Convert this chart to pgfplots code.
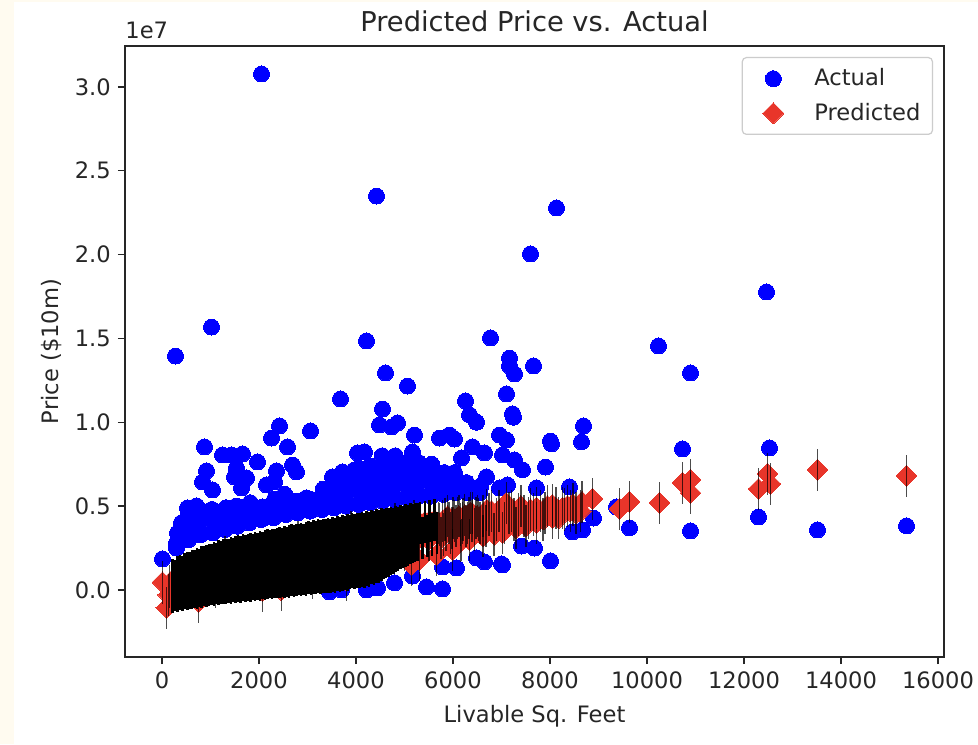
\documentclass[border=0pt]{standalone}
\usepackage{fontspec}
\setmainfont{DejaVu Sans}
\usepackage{pgfplots}
\usepackage{pgfplotstable}
\pgfplotsset{compat=1.18}
\definecolor{predred}{HTML}{E8352A}
\definecolor{cream}{HTML}{FFFBF0}
\definecolor{axdark}{HTML}{262626}

% prices are in units of 1e7
\pgfplotstableread[row sep=\\]{
x y\\
2052 3.077\\ 4423 2.349\\ 8134 2.278\\ 7598 2.004\\ 12464 1.777\\ 1021 1.568\\ 278 1.395\\ 4216 1.485\\ 6773 1.503\\ 10237 1.455\\
10897 1.294\\ 4608 1.294\\ 3680 1.139\\ 5062 1.216\\ 7165 1.383\\ 7165 1.336\\ 7660 1.336\\ 7268 1.288\\ 7103 1.169\\ 6258 1.127\\
6340 1.044\\ 6485 1.0\\ 7227 1.05\\ 7247 1.03\\ 4546 1.079\\ 2423 .978\\ 2258 .906\\ 2588 .853\\ 3062 .948\\ 876 .853\\
8691 .978\\ 8649 .883\\ 8010 .888\\ 8031 .871\\ 5206 .924\\ 4856 .996\\ 4484 .984\\ 4732 .972\\ 10732 .841\\ 12526 .847\\
7907 .733\\ 8402 .614\\ 8897 .429\\ 9639 .37\\ 10897 .352\\ 12299 .435\\ 13515 .358\\ 15351 .382\\ 9371 .495\\ 8464 .346\\
8670 .358\\ 8010 .173\\ 7412 .262\\ 7680 .25\\ 7021 .149\\ 10 .185\\ 1247 .805\\ 1433 .805\\ 1660 .811\\ 1969 .763\\
918 .71\\ 835 .644\\ 1041 .596\\ 1536 .727\\ 1495 .674\\ 1742 .668\\ 1639 .608\\ 2361 .71\\ 2155 .626\\ 2320 .644\\
2691 .745\\ 2773 .704\\ 402 .4\\ 526 .489\\ 711 .501\\ 299 .25\\ 876 .435\\ 1227 .447\\ 1701 .495\\ 2072 .495\\
2485 .555\\ 2979 .549\\ 3412 .549\\ 3515 .674\\ 3722 .704\\ 3969 .716\\ 4031 .817\\ 4175 .823\\ 5165 .823\\ 5722 .906\\
5928 .924\\ 6031 .9\\ 6175 .787\\ 6402 .853\\ 6649 .817\\ 6959 .924\\ 7103 .894\\ 7021 .805\\ 7268 .775\\ 7433 .716\\
6691 .674\\ 6959 .608\\ 7124 .626\\ 7722 .608\\ 4216 0\\ 4443 .012\\ 4794 .042\\ 5165 .083\\ 5454 .018\\ 5784 .006\\
6072 .131\\ 6649 .167\\ 7000 .155\\ 6485 .191\\ 5784 .137\\ 3454 -.012\\ 3701 0\\
300 .28\\ 320 .34\\ 550 .30\\ 570 .37\\ 530 .44\\ 800 .33\\ 780 .40\\ 820 .47\\ 1050 .34\\ 1070 .41\\ 1030 .48\\
1300 .36\\ 1280 .43\\ 1320 .49\\ 1550 .38\\ 1570 .45\\ 1530 .50\\ 1800 .40\\ 1780 .47\\ 1820 .52\\ 2050 .42\\ 2070 .49\\
2300 .43\\ 2280 .50\\ 2320 .54\\ 2550 .45\\ 2570 .51\\ 2530 .57\\ 2800 .46\\ 2780 .53\\ 3050 .47\\ 3070 .54\\
3300 .48\\ 3280 .55\\ 3320 .60\\ 3550 .49\\ 3570 .56\\ 3530 .62\\ 3800 .50\\ 3780 .57\\ 3820 .64\\ 4050 .51\\ 4070 .58\\ 4030 .65\\ 4060 .72\\
4300 .52\\ 4280 .59\\ 4320 .66\\ 4290 .74\\ 4550 .53\\ 4570 .60\\ 4530 .67\\ 4560 .74\\ 4540 .80\\
4800 .54\\ 4780 .61\\ 4820 .68\\ 4790 .75\\ 4810 .80\\ 5050 .55\\ 5070 .62\\ 5030 .69\\ 5060 .76\\
5300 .56\\ 5280 .63\\ 5320 .70\\ 5290 .76\\ 5550 .56\\ 5570 .63\\ 5530 .70\\ 5560 .75\\ 5800 .57\\ 5780 .64\\ 5820 .70\\
6050 .58\\ 6070 .65\\ 6030 .70\\ 6300 .58\\ 6280 .64\\ 6550 .58\\ 6570 .62\\
}\actualdata

% scattered predictions on the right, thin bars
\pgfplotstableread[row sep=\\]{
x y\\
8876 .543\\ 9433 .483\\ 9639 .525\\ 10258 .519\\ 10732 .638\\ 10897 .656\\ 10897 .578\\ 12299 .602\\ 12485 .692\\ 12546 .632\\ 13515 .716\\ 15351 .68\\
8660 .525\\ 8630 .47\\ 8540 .46\\ 8470 .51\\ 8360 .50\\ 8260 .49\\ 8180 .43\\ 8050 .507\\ 8050 .43\\
7950 .50\\ 7860 .42\\ 7720 .49\\ 7720 .40\\ 7600 .48\\ 7500 .38\\ 7400 .50\\ 7300 .37\\ 7210 .47\\ 7100 .518\\ 7020 .34\\
6950 .47\\ 6850 .33\\ 6794 .47\\ 6691 .477\\ 6620 .32\\ 6500 .44\\ 6400 .458\\ 6340 .298\\ 6200 .40\\ 6150 .29\\
5990 .24\\ 5890 .44\\ 5800 .33\\ 5660 .21\\ 5500 .30\\ 5310 .18\\ 5140 .15\\ 5000 .24\\
5700 .40\\ 5750 .31\\ 5840 .42\\ 5950 .34\\ 6000 .43\\ 6060 .38\\ 6120 .44\\ 6180 .30\\ 6240 .445\\ 6300 .40\\
6360 .46\\ 6440 .36\\ 6560 .40\\ 6680 .38\\ 6740 .45\\ 6900 .42\\ 7060 .40\\ 7150 .46\\ 7260 .42\\ 7350 .45\\
7460 .44\\ 7560 .43\\ 7660 .45\\ 7800 .47\\ 7900 .46\\ 8120 .49\\ 8300 .48\\ 8420 .47\\
5720 .39\\ 5780 .41\\ 5860 .36\\ 5920 .40\\ 5980 .37\\ 6030 .41\\ 6090 .43\\ 6150 .39\\ 6210 .42\\ 6270 .38\\
6330 .43\\ 6390 .41\\ 6470 .43\\ 6530 .42\\ 6620 .44\\
10 .045\\ 90 -.107\\ 130 -.03\\ 150 .02\\ 750 -.07\\ 2070 -.005\\ 2460 0\\ 3800 .06\\
1300 .195\\ 2800 .285\\ 3900 .345\\ 4800 .39\\ 5200 .41\\ 1100 .02\\ 3100 .07\\
}\sparsepred

% the dense band, two rows per column, wider bars so that they close up
\pgfplotstableread[row sep=\\]{
x y\\
220 .06\\ 220 -.01\\ 270 .055\\ 270 0\\ 320 .075\\ 320 -.005\\ 370 .08\\ 370 .005\\
420 .075\\ 420 0\\ 470 .095\\ 470 .01\\ 520 .10\\ 520 .005\\ 570 .10\\ 570 .015\\ 620 .115\\ 620 .01\\
670 .11\\ 670 .02\\ 720 .125\\ 720 .015\\ 770 .12\\ 770 .025\\ 820 .135\\ 820 .02\\ 870 .135\\ 870 .03\\
920 .14\\ 920 .025\\ 970 .15\\ 970 .03\\ 1020 .145\\ 1020 .035\\ 1070 .16\\ 1070 .03\\ 1120 .155\\ 1120 .04\\
1170 .17\\ 1170 .035\\ 1220 .165\\ 1220 .045\\ 1270 .175\\ 1270 .04\\ 1320 .18\\ 1320 .045\\ 1370 .175\\ 1370 .05\\
1420 .19\\ 1420 .045\\ 1470 .185\\ 1470 .055\\ 1520 .195\\ 1520 .05\\ 1570 .20\\ 1570 .055\\ 1620 .195\\ 1620 .05\\
1670 .205\\ 1670 .06\\ 1720 .20\\ 1720 .055\\ 1770 .21\\ 1770 .06\\ 1820 .215\\ 1820 .055\\ 1870 .21\\ 1870 .065\\
1920 .22\\ 1920 .06\\ 1970 .215\\ 1970 .065\\ 2020 .225\\ 2020 .06\\ 2070 .22\\ 2070 .07\\ 2120 .23\\ 2120 .065\\
2170 .235\\ 2170 .07\\ 2220 .23\\ 2220 .075\\ 2270 .24\\ 2270 .07\\ 2320 .235\\ 2320 .08\\ 2370 .245\\ 2370 .075\\
2420 .25\\ 2420 .08\\ 2470 .245\\ 2470 .085\\ 2520 .255\\ 2520 .08\\ 2570 .25\\ 2570 .085\\ 2620 .26\\ 2620 .08\\
2670 .265\\ 2670 .09\\ 2720 .26\\ 2720 .085\\ 2770 .27\\ 2770 .09\\ 2820 .265\\ 2820 .095\\ 2870 .275\\ 2870 .09\\
2920 .27\\ 2920 .095\\ 2970 .28\\ 2970 .09\\ 3020 .285\\ 3020 .10\\ 3070 .28\\ 3070 .095\\ 3120 .29\\ 3120 .10\\
3170 .285\\ 3170 .10\\ 3220 .295\\ 3220 .105\\ 3270 .29\\ 3270 .10\\ 3320 .30\\ 3320 .11\\ 3370 .295\\ 3370 .105\\
3420 .305\\ 3420 .11\\ 3470 .30\\ 3470 .105\\ 3520 .31\\ 3520 .115\\ 3570 .305\\ 3570 .11\\ 3620 .315\\ 3620 .12\\
3670 .31\\ 3670 .115\\ 3720 .32\\ 3720 .12\\ 3770 .315\\ 3770 .125\\ 3820 .325\\ 3820 .12\\ 3870 .32\\ 3870 .13\\
3920 .33\\ 3920 .135\\ 3970 .325\\ 3970 .13\\ 4020 .335\\ 4020 .14\\ 4070 .33\\ 4070 .135\\ 4120 .34\\ 4120 .145\\
4170 .335\\ 4170 .14\\ 4220 .345\\ 4220 .15\\ 4270 .34\\ 4270 .145\\ 4320 .35\\ 4320 .16\\ 4370 .345\\ 4370 .155\\
4420 .355\\ 4420 .165\\ 4470 .35\\ 4470 .17\\ 4520 .36\\ 4520 .18\\ 4570 .355\\ 4570 .19\\ 4620 .365\\ 4620 .20\\
4670 .36\\ 4670 .205\\ 4720 .37\\ 4720 .215\\ 4770 .365\\ 4770 .22\\ 4820 .375\\ 4820 .23\\ 4870 .37\\ 4870 .24\\
4920 .38\\ 4920 .25\\ 4970 .375\\ 4970 .255\\ 5020 .385\\ 5020 .265\\ 5070 .38\\ 5070 .27\\ 5120 .39\\ 5120 .28\\
5170 .385\\ 5170 .285\\ 5220 .395\\ 5220 .29\\ 5270 .39\\ 5270 .30\\ 5320 .40\\ 5370 .31\\ 5420 .405\\ 5470 .32\\
5520 .41\\ 5570 .33\\ 5620 .415\\ 5670 .34\\
}\densepred

\begin{document}
\begin{tikzpicture}
\fill[cream] (0,0) rectangle (489pt,372pt);
\fill[white] (7pt,0) rectangle (489pt,371pt);
\path[use as bounding box] (0,0) rectangle (489pt,372pt);
\begin{axis}[
    at={(62.5pt,43.5pt)},
    anchor=south west,
    scale only axis,
    width=409.5pt,
    height=305.5pt,
    clip mode=individual,
    xmin=-763, xmax=16124,
    ymin=-0.4, ymax=3.244,
    xtick={0,2000,...,16000},
    ytick={0,0.5,...,3},
    axis line style={axdark, line width=0.7pt},
    tick style={axdark, line width=0.7pt},
    tick align=outside,
    tick pos=left,
    major tick length=3.6pt,
    font=\fontsize{11.3}{13}\selectfont,
    text=axdark,
    scaled ticks=false,
    x tick label style={/pgf/number format/assume math mode=true, /pgf/number format/set thousands separator={}},
    y tick label style={/pgf/number format/assume math mode=true, /pgf/number format/fixed, /pgf/number format/fixed zerofill, /pgf/number format/precision=1},
    title={\fontsize{13.65}{15}\selectfont Predicted Price vs. Actual},
    title style={at={(0.5,1)}, yshift=-2.5pt},
    xlabel={Livable Sq. Feet},
    xlabel style={yshift=-1.5pt},
    ylabel={Price (\$10m)},
    ylabel style={yshift=-0.5pt},
    legend style={at={(0.9866,0.982)}, anchor=north east, draw=black!20, rounded corners=2pt,
        line width=0.6pt, row sep=3.2pt, inner xsep=4pt, inner ysep=3.5pt, font=\fontsize{11.3}{13}\selectfont},
    legend cell align=left,
    legend image code/.code={\path[draw=none] (0pt,0pt) (30pt,0pt); \draw[#1] plot coordinates {(11.5pt,0pt)};},
]
\addplot[only marks, mark=*, mark size=4pt, mark options={draw=blue, line width=0pt, fill=blue}] table {\actualdata};
\addlegendentry{Actual}
\addplot[only marks, mark=square*, mark size=3.7pt, mark options={rotate=45, draw=predred, line width=0pt, fill=predred}] table {\sparsepred};
\addlegendentry{Predicted}
\addplot[forget plot, only marks, mark=square*, mark size=3.7pt, mark options={rotate=45, draw=predred, line width=0pt, fill=predred}] table {\densepred};
\addplot[forget plot, draw=none, mark=none, error bars/.cd, y dir=both, y fixed=0.126, error mark=none,
    error bar style={draw=black, line width=1.3pt}] table {\densepred};
\addplot[forget plot, draw=none, mark=none, error bars/.cd, y dir=both, y fixed=0.126, error mark=none,
    error bar style={draw=black, opacity=0.7, line width=0.75pt}] table {\sparsepred};
\end{axis}
\node[font=\fontsize{11.3}{13}\selectfont, text=axdark, anchor=base west, inner sep=0pt] at (62.5pt,352.5pt) {1e7};
\end{tikzpicture}
\end{document}
